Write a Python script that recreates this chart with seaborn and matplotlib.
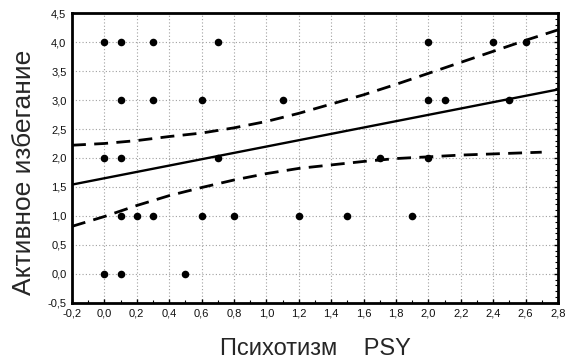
import numpy as np
import pandas as pd
import matplotlib
matplotlib.use("Agg")
import matplotlib.pyplot as plt
import matplotlib.ticker as mticker
import seaborn as sns

# Observed points (Психотизм PSY, Активное избегание)
psy = [0.0, 0.1, 0.3, 0.7, 2.0, 2.4, 2.6,
       0.1, 0.3, 0.6, 1.1, 2.0, 2.1, 2.5,
       0.0, 0.1, 0.7, 1.7, 2.0,
       0.1, 0.2, 0.3, 0.6, 0.8, 1.2, 1.5, 1.9,
       0.0, 0.1, 0.5]
avoid = [4, 4, 4, 4, 4, 4, 4,
         3, 3, 3, 3, 3, 3, 3,
         2, 2, 2, 2, 2,
         1, 1, 1, 1, 1, 1, 1, 1,
         0, 0, 0]

# Regression line
fit_intercept = 1.65
fit_slope = 0.547
fit_x = [-0.2, 2.8]

# 95% confidence band
band_x = [-0.2, 0.0, 0.2, 0.4, 0.6, 0.8, 1.0, 1.2, 1.4, 1.6, 1.8, 2.0, 2.2, 2.4, 2.6, 2.8]
band_upper = [2.22, 2.25, 2.30, 2.37, 2.43, 2.52, 2.63, 2.77, 2.93, 3.09, 3.27, 3.46, 3.65, 3.84, 4.03, 4.21]
lower_x = [-0.2, 0.0, 0.2, 0.4, 0.6, 0.8, 1.0, 1.2, 1.4, 1.6, 1.8, 2.0, 2.2, 2.4, 2.6, 2.7]
band_lower = [0.82, 0.99, 1.18, 1.35, 1.49, 1.62, 1.73, 1.82, 1.88, 1.94, 1.99, 2.02, 2.05, 2.07, 2.09, 2.10]

x_ticks = [-0.2, 0.0, 0.2, 0.4, 0.6, 0.8, 1.0, 1.2, 1.4, 1.6, 1.8, 2.0, 2.2, 2.4, 2.6, 2.8]
y_ticks = [-0.5, 0.0, 0.5, 1.0, 1.5, 2.0, 2.5, 3.0, 3.5, 4.0, 4.5]

sns.set_theme(style="white")
plt.rcParams['font.family'] = ['Liberation Sans', 'DejaVu Sans']

fig = plt.figure(figsize=(5.67, 3.64), dpi=100)
ax = fig.add_axes([0.127, 0.168, 0.857, 0.796])

ax.set_xlim(-0.2, 2.8)
ax.set_ylim(-0.5, 4.5)
ax.set_xticks(x_ticks)
ax.set_yticks(y_ticks)
ax.set_xticklabels([f"{v:.1f}".replace('.', ',') for v in x_ticks])
ax.set_yticklabels([f"{v:.1f}".replace('.', ',') for v in y_ticks])
ax.xaxis.set_minor_locator(mticker.MultipleLocator(0.1))
ax.yaxis.set_minor_locator(mticker.MultipleLocator(0.1))

ax.grid(True, which='major', color='#a0a0a0', linestyle=(0, (1, 2)), linewidth=0.8)
ax.set_axisbelow(True)

pts = pd.DataFrame({"x": psy, "y": avoid})
sns.scatterplot(data=pts, x="x", y="y", ax=ax, color='black', s=30,
                edgecolor='black', linewidth=0, zorder=3)

fx = np.array(fit_x)
line = pd.DataFrame({"x": fx, "y": fit_intercept + fit_slope * fx})
sns.lineplot(data=line, x="x", y="y", ax=ax, color='black', linewidth=1.7, zorder=4)

up = pd.DataFrame({"x": band_x, "y": band_upper})
lo = pd.DataFrame({"x": lower_x, "y": band_lower})
sns.lineplot(data=up, x="x", y="y", ax=ax, color='black', linewidth=2.0,
             linestyle=(0, (5, 3)), zorder=4)
sns.lineplot(data=lo, x="x", y="y", ax=ax, color='black', linewidth=2.0,
             linestyle=(0, (5, 3)), zorder=4)

for s in ax.spines.values():
    s.set_visible(True)
    s.set_color('black')
    s.set_linewidth(2.0)

ax.tick_params(axis='both', which='both', direction='in', color='black',
               labelsize=8, labelcolor='#111111', pad=4, top=False, right=True, left=True, bottom=True)
ax.tick_params(axis='both', which='major', length=3, width=1.0)
ax.tick_params(axis='both', which='minor', length=2, width=0.8)
ax.tick_params(axis='y', which='both', left=False)

ax.set_xlabel("Психотизм    PSY", fontsize=17, labelpad=14)
ax.set_ylabel("Активное избегание", fontsize=19)
ax.yaxis.set_label_coords(-0.075, 0.45)

fig.savefig("out.png", dpi=100, facecolor='white')
